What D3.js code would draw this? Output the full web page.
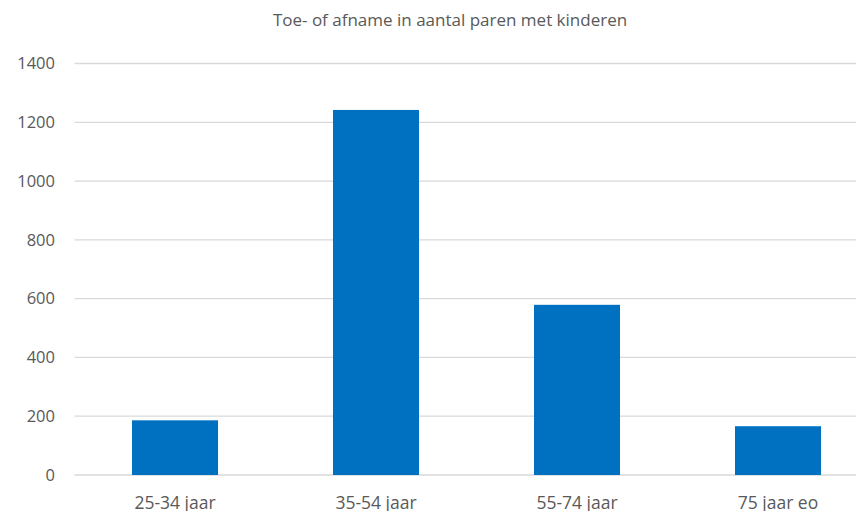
<!DOCTYPE html>
<html>
<head>
<meta charset="utf-8">
<script src="https://cdn.jsdelivr.net/npm/d3@7"></script>
<style>
  body { margin: 0; background: #fff; }
  text { font-family: "Open Sans", "Noto Sans", sans-serif; fill: #595959; }
</style>
</head>
<body>
<script>
// data
var categories = ["25-34 jaar", "35-54 jaar", "55-74 jaar", "75 jaar eo"];
var values = [186, 1242, 579, 166];
var yTicks = [0, 200, 400, 600, 800, 1000, 1200, 1400];
var title = "Toe- of afname in aantal paren met kinderen";

var width = 856;
var height = 511;

var svg = d3.select("body")
            .append("svg")
            .attr("width", width)
            .attr("height", height);

// plot area runs past the right edge, as in the picture
var plotLeft = 74.5, plotRight = 878.5, plotTop = 63.5, plotBottom = 475;

var x = d3.scaleBand()
          .domain(categories)
          .range([plotLeft, plotRight])
          .paddingInner(0.572)
          .paddingOuter(0.286);

var y = d3.scaleLinear()
          .domain([0, 1400])
          .range([plotBottom, plotTop]);

// gridlines
svg.selectAll(".grid")
   .data(yTicks)
   .enter().append("line")
   .attr("class", "grid")
   .attr("x1", plotLeft)
   .attr("x2", plotRight)
   .attr("y1", function(d) { return y(d); })
   .attr("y2", function(d) { return y(d); })
   .attr("stroke", "#d9d9d9")
   .attr("stroke-width", 1.3);

// y labels
svg.selectAll(".ylab")
   .data(yTicks)
   .enter().append("text")
   .attr("class", "ylab")
   .attr("x", 55)
   .attr("y", function(d) { return y(d); })
   .attr("dy", "0.35em")
   .attr("text-anchor", "end")
   .style("font-size", "16.5px")
   .text(function(d) { return d; });

// bars
svg.selectAll(".bar")
   .data(values)
   .enter().append("rect")
   .attr("class", "bar")
   .attr("x", function(d, i) { return x(categories[i]); })
   .attr("y", function(d) { return y(d); })
   .attr("width", x.bandwidth())
   .attr("height", function(d) { return y(0) - y(d); })
   .attr("fill", "#0070c0");

// x labels
svg.selectAll(".xlab")
   .data(categories)
   .enter().append("text")
   .attr("class", "xlab")
   .attr("x", function(d) { return x(d) + x.bandwidth() / 2; })
   .attr("y", 503)
   .attr("dy", "0.35em")
   .attr("text-anchor", "middle")
   .style("font-size", "17.5px")
   .text(function(d) { return d; });

// title
svg.append("text")
   .attr("x", 450)
   .attr("y", 20)
   .attr("dy", "0.35em")
   .attr("text-anchor", "middle")
   .style("font-size", "17px")
   .text(title);
</script>
</body>
</html>
